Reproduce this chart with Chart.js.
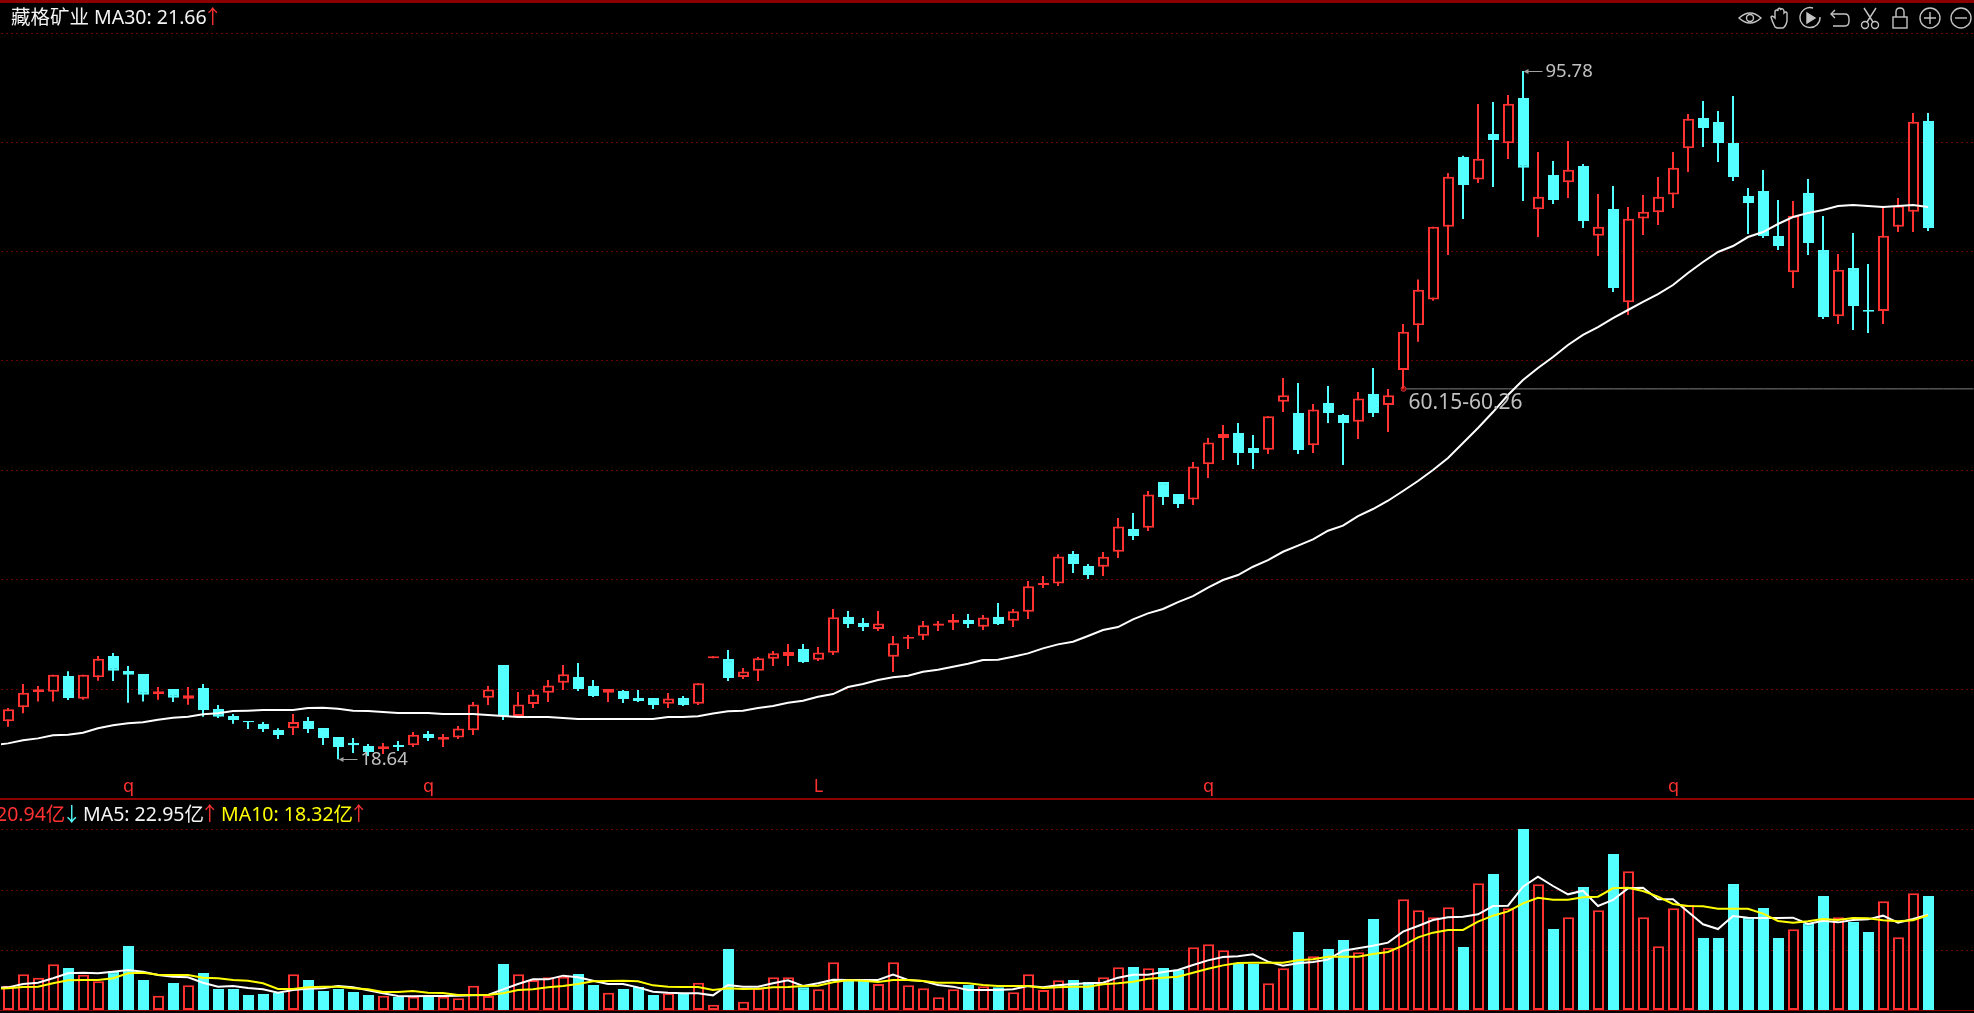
<!DOCTYPE html>
<html>
<head>
<meta charset="utf-8">
<script src="https://cdn.jsdelivr.net/npm/chart.js@4/dist/chart.umd.min.js"></script>
<style>
html, body { margin: 0; padding: 0; background: #000; width: 1974px; height: 1013px; overflow: hidden; }
canvas { position: absolute; left: 1px; }
#chart0 { top: 0; }
#chart1 { top: 800px; }
.rule { position: absolute; left: 0; width: 1974px; background: #8b0000; }
.txt { position: absolute; white-space: nowrap; font-family: "Noto Sans", "Noto Sans CJK SC", sans-serif; font-size: 19.5px; line-height: 22px; }
#tools { position: absolute; left: 1738px; top: 6px; }
</style>
</head>
<body>
<canvas id="chart0" width="1980" height="798"></canvas>
<canvas id="chart1" width="1980" height="210"></canvas>

<div class="rule" style="top:0;height:3px"></div>
<div class="rule" style="top:798px;height:2px"></div>
<div class="rule" style="top:1010px;height:1px"></div>

<span class="txt" style="left:11px;top:6px;color:#f4f4f4">藏格矿业 MA30: 21.66</span>
<span class="txt" style="left:203px;top:6px;color:#ff3232">↑</span>
<span class="txt" style="left:-4px;top:803px;color:#ff3232">20.94亿</span>
<span class="txt" style="left:62px;top:803px;color:#54ffff">↓</span>
<span class="txt" style="left:83px;top:803px;color:#f4f4f4">MA5: 22.95亿</span>
<span class="txt" style="left:200px;top:803px;color:#ff3232">↑</span>
<span class="txt" style="left:221px;top:803px;color:#ffff00">MA10: 18.32亿</span>
<span class="txt" style="left:349px;top:803px;color:#ff3232">↑</span>

<svg id="tools" width="236" height="24" fill="none" stroke="#c4c4c4" stroke-width="1.4">
  <g transform="translate(12,12)"><path d="M-11 0Q0 -10 11 0Q0 10 -11 0Z"/><circle r="3.5"/></g>
  <g transform="translate(42,12)"><path d="M-5 9Q-8 3 -9 -1Q-8 -3 -5 0V-7Q-3 -9 -2 -7V-9Q0 -11 1 -8V-9Q3 -10 4 -7V-5Q6 -7 7 -5V3Q6 8 3 10H-3Z"/></g>
  <g transform="translate(72,12)"><path d="M3 -10A10 10 0 1 0 10 -1"/><path d="M-3 -5L5 0L-3 5Z" fill="#c4c4c4"/></g>
  <g transform="translate(102,12)"><path d="M-9 -4H5Q9 -4 9 1V3Q9 8 5 8H-7"/><path d="M-5 -8L-9 -4L-5 0"/></g>
  <g transform="translate(132,12)"><circle cx="-5" cy="7" r="3.5"/><circle cx="5" cy="7" r="3.5"/><path d="M-3 4L6 -10M3 4L-6 -10"/></g>
  <g transform="translate(162,12)"><rect x="-7" y="-1" width="14" height="11"/><path d="M-4 -1V-6Q-4 -10 0 -10Q4 -10 4 -6V-1"/></g>
  <g transform="translate(192,12)"><circle r="10"/><path d="M-6 0H6M0 -6V6"/></g>
  <g transform="translate(223,12)"><circle r="10"/><path d="M-6 0H6"/></g>
</svg>

<script>
const opens = [22.88,24.45,26.17,26.21,27.96,25.42,27.81,30.21,28.52,28.19,
    25.91,26.51,25.42,26.62,24.26,23.48,22.92,22.58,21.91,22.10,
    22.92,22.13,21.12,20.45,20.12,19.78,20.23,20.19,21.46,20.82,
    21.08,21.87,25.53,29.19,23.47,24.82,26.09,27.21,27.85,26.84,
    26.09,26.28,25.49,25.49,24.86,25.49,24.86,29.95,29.86,27.85,
    28.56,29.90,30.20,30.99,29.79,30.57,34.57,33.90,33.23,30.13,
    32.14,32.48,33.60,33.93,34.23,33.49,34.57,34.16,35.17,38.16,
    38.34,41.63,40.29,40.21,41.89,44.44,44.59,49.70,48.36,47.76,
    51.69,54.64,55.20,53.52,53.33,58.71,57.44,53.82,58.56,57.22,
    56.47,59.57,58.34,62.26,67.27,70.18,78.33,86.14,83.63,88.72,
    87.67,92.75,80.27,84.12,83.30,85.13,77.32,80.31,69.85,79.26,
    79.94,81.95,87.11,90.51,90.06,87.71,81.77,82.33,77.28,73.21,
    82.10,75.71,68.28,73.69,68.99,68.87,78.33,80.01,90.17];
const closes = [24.23,26.09,26.47,28.11,25.50,28.11,29.91,28.56,28.11,25.87,
    26.24,25.53,25.80,24.15,23.40,23.03,22.77,22.02,21.35,22.81,
    22.02,21.01,20.00,20.19,19.44,20.08,20.00,21.39,21.01,21.12,
    22.09,24.78,26.46,23.47,24.78,25.90,26.91,28.15,26.50,25.72,
    26.50,25.38,25.16,24.71,25.45,24.71,27.14,30.17,27.73,28.48,
    29.94,30.50,30.65,29.53,30.61,34.54,33.79,33.45,33.86,31.62,
    32.33,33.64,33.86,34.23,33.79,34.53,33.79,35.21,38.01,38.38,
    41.37,40.51,39.28,41.33,44.73,43.65,48.32,48.02,47.24,51.46,
    54.15,55.09,52.96,52.96,57.07,59.42,53.29,57.85,57.44,56.32,
    59.08,57.44,59.42,66.56,71.27,78.33,83.93,83.00,85.95,88.04,
    92.12,84.94,81.69,81.32,84.72,78.96,78.33,71.45,79.23,80.01,
    81.69,84.94,90.44,89.39,87.71,83.90,80.98,77.28,76.16,79.56,
    76.50,68.20,73.51,69.43,68.80,77.32,80.68,90.10,78.18];
const highs = [24.38,27.07,26.84,28.11,28.49,28.11,30.21,30.54,29.08,28.19,
    26.73,26.51,26.73,27.07,24.71,23.70,22.92,22.81,22.10,23.70,
    23.37,22.13,21.12,21.01,20.34,20.45,20.68,21.68,21.80,21.46,
    22.35,25.04,26.84,29.19,26.16,26.39,27.51,29.19,29.42,27.51,
    26.50,26.39,26.39,25.49,26.05,25.72,27.14,30.17,30.87,28.86,
    30.09,30.76,31.55,31.55,31.21,35.47,35.25,34.46,35.25,32.44,
    32.55,34.12,34.12,34.91,34.91,34.79,36.14,35.47,38.61,39.17,
    41.60,41.97,40.51,41.86,45.67,46.23,48.70,49.70,48.36,51.95,
    54.64,56.10,56.32,54.97,57.07,61.36,60.80,58.45,60.47,57.33,
    59.79,62.49,60.13,67.42,72.42,78.33,84.34,86.29,92.08,92.30,
    93.09,95.78,86.70,85.69,87.93,85.35,81.99,82.89,80.53,81.88,
    83.90,86.70,90.96,92.42,91.30,92.98,82.66,84.68,81.32,81.21,
    83.67,79.52,75.26,77.62,74.14,80.53,81.54,91.07,91.07];
const lows = [22.28,23.78,25.09,25.09,25.27,25.31,27.44,27.40,24.97,25.09,
    25.31,25.05,24.75,23.40,23.25,22.62,22.02,21.68,20.90,21.35,
    21.57,20.23,18.64,19.33,18.99,19.22,19.55,20.00,20.68,20.00,
    20.90,21.34,24.71,23.03,23.25,24.37,25.04,26.39,26.28,25.60,
    25.04,24.93,25.04,24.26,24.37,24.60,24.71,29.95,27.40,27.62,
    27.40,29.08,29.08,29.42,29.64,30.31,33.34,33.00,33.00,28.41,
    30.98,31.99,33.00,33.11,33.34,33.11,33.67,33.45,34.35,37.82,
    38.05,39.50,38.83,39.17,41.18,43.20,44.21,47.13,46.79,47.13,
    50.15,52.17,51.61,51.16,52.84,57.55,52.84,52.96,56.32,51.61,
    54.53,56.99,55.31,60.15,65.44,70.03,75.15,79.19,83.22,82.78,
    85.91,81.21,77.17,80.87,81.54,78.18,75.04,71.00,68.43,77.39,
    78.52,80.42,84.46,87.26,85.58,83.45,77.51,77.06,75.71,71.45,
    75.15,67.98,67.42,66.74,66.41,67.42,77.73,77.73,77.84];
// the first entry of each average is the bar just off the left edge
const ma30 = [20.20,20.41,20.75,20.97,21.31,21.39,21.61,22.10,22.43,22.66,22.77,
    23.07,23.29,23.40,23.67,23.78,24.04,24.08,24.15,24.15,24.15,
    24.38,24.41,24.30,24.08,24.04,23.93,23.81,23.81,23.81,23.70,
    23.70,23.70,23.59,23.47,23.36,23.36,23.36,23.25,23.14,23.14,
    23.14,23.14,23.14,23.14,23.36,23.36,23.44,23.77,24.00,24.07,
    24.37,24.60,24.97,25.19,25.64,25.94,26.73,27.06,27.51,27.81,
    27.99,28.44,28.67,29.00,29.34,29.75,29.79,30.12,30.50,31.06,
    31.51,31.80,32.44,33.11,33.45,34.31,34.98,35.47,36.25,36.92,
    37.86,38.72,39.28,40.21,40.96,41.89,42.57,43.28,44.25,44.81,
    45.89,46.68,47.61,48.70,49.82,51.05,52.40,54.08,55.76,57.55,
    59.46,61.14,62.49,63.72,65.07,66.19,67.08,68.09,68.99,69.89,
    70.78,71.79,73.14,74.37,75.49,76.16,77.17,77.73,78.63,79.41,
    79.86,80.20,80.65,80.76,80.65,80.54,80.65,80.76,80.54];
const volumes = [4.47,6.55,5.94,8.39,7.71,6.49,5.27,7.10,11.76,5.51,
    2.63,4.96,4.53,6.80,3.86,3.86,2.76,2.94,3.12,6.55,
    5.51,3.49,3.86,3.31,2.76,2.63,2.39,2.45,2.39,2.45,
    2.14,4.47,2.57,8.45,6.55,5.51,6.00,6.12,6.61,4.59,
    3.18,3.86,4.22,2.76,3.06,2.94,5.02,0.98,11.21,1.53,
    3.98,6.00,6.00,4.16,3.80,8.76,5.33,5.51,4.78,8.76,
    4.53,3.98,2.33,3.80,4.59,4.35,4.16,3.25,6.55,3.67,
    5.45,5.51,5.14,6.00,7.84,7.90,7.65,7.71,7.35,11.51,
    12.06,10.96,8.45,8.45,4.90,7.65,14.33,9.86,11.21,12.86,
    10.59,16.72,11.45,20.33,18.31,17.02,18.86,11.57,23.27,24.98,
    18.68,33.25,23.08,14.88,17.02,22.59,18.31,28.66,25.47,17.02,
    11.69,18.68,19.29,13.23,13.23,23.14,17.02,18.74,13.23,14.82,
    15.92,20.94,17.02,16.16,14.33,19.96,13.35,21.43,20.94];
const ma5 = [4.10,4.16,4.78,5.02,5.82,6.74,6.86,6.74,7.04,7.35,7.04,
    6.43,6.12,6.00,5.02,4.29,4.41,4.04,3.80,3.18,3.67,
    3.92,3.98,4.41,4.16,3.61,3.06,2.57,2.51,2.57,2.57,
    2.63,2.69,2.76,3.80,4.78,5.63,5.63,6.31,6.00,5.39,
    4.78,4.78,4.16,3.37,3.18,3.06,3.06,2.69,4.59,4.29,
    4.29,4.90,5.45,4.41,4.90,5.57,5.51,5.51,5.51,6.49,
    5.51,5.33,4.59,4.29,3.67,3.67,3.67,3.80,4.41,4.16,
    4.53,4.78,4.90,5.02,5.94,6.49,6.49,6.98,7.35,8.27,
    9.12,9.74,9.86,10.23,8.88,8.14,8.57,8.82,9.25,10.90,
    11.33,11.82,12.37,14.39,15.43,16.53,17.02,17.14,17.57,19.10,
    19.16,22.66,24.49,22.78,21.25,21.92,19.10,20.21,22.35,22.47,
    20.33,20.33,18.06,15.74,14.88,17.27,16.96,16.90,16.90,16.96,
    15.80,16.41,16.10,16.53,16.65,17.33,16.04,16.72,17.51];
const ma10 = [3.95,3.98,4.22,4.29,4.90,5.45,5.51,5.51,5.82,6.74,6.86,
    6.49,6.43,6.43,5.94,5.82,5.51,5.39,4.90,3.86,3.86,
    4.16,4.29,4.29,3.98,3.80,3.31,3.31,3.49,3.18,3.12,
    2.76,2.76,2.76,3.06,3.67,3.80,4.16,4.41,4.78,5.27,
    5.33,5.39,5.27,4.53,4.29,4.22,4.22,3.67,3.98,3.86,
    3.92,4.16,4.22,4.41,4.47,5.08,5.45,5.39,5.14,5.51,
    5.51,5.33,5.02,5.02,4.90,4.59,4.41,4.41,4.41,4.04,
    4.16,4.29,4.29,4.71,4.90,5.20,5.76,5.94,6.12,6.86,
    7.59,8.20,8.63,8.69,8.69,8.69,9.12,9.31,9.80,9.80,
    9.80,10.29,10.65,11.82,13.35,14.21,14.70,14.70,16.23,17.33,
    18.12,19.59,20.63,20.27,20.27,20.70,20.82,22.35,22.47,21.86,
    20.82,19.47,19.10,19.04,18.61,18.61,18.61,17.70,16.35,16.04,
    16.29,16.72,16.53,16.90,16.84,16.47,16.29,16.47,17.39];

const tick_index = [8, 28, 54, 80, 111];
const tick_text = ['q', 'q', 'L', 'q', 'q'];
const price_grid = [100.04, 87.82, 75.60, 63.38, 51.05, 38.83, 26.50];
const volume_grid = [11.02, 22.04, 33.07];
const gap_start = 93;
const gap_price = 60.15;
const note_index = [101, 22, 93];
const note_price = [95.78, 18.64, 60.15];
const note_text = ['95.78', '18.64', '60.15-60.26'];

const RED = '#ff3232';
const CYAN = '#54ffff';
const GRID = '#6a0000';
const SLOTS = 132;

const labels0 = Array.from({ length: SLOTS }, (_, i) => {
    const k = tick_index.indexOf(i);
    return k >= 0 ? tick_text[k] : '';
});
const up = opens.map((o, i) => closes[i] >= o);
const edge_colors = up.map(u => u ? RED : CYAN);
const fill_colors = up.map(u => u ? '#000000' : CYAN);

function y_axis(min, max, ticks) {
    return {
        min: min,
        max: max,
        afterFit: s => { s.width = 0; },
        afterBuildTicks: s => { s.ticks = ticks.map(v => ({ value: v })); },
        ticks: { display: false },
        border: { display: false, dash: [2, 3] },
        grid: { color: GRID, lineWidth: 1, drawTicks: false },
    };
}

function wick_axis() {
    // half a pixel to the left, so a 2px wick lands on whole pixels
    return { type: 'linear', display: false, offset: false, min: -7 / 15, max: SLOTS - 7 / 15 };
}

function avg_points(values) {
    return values.map((v, i) => ({ x: i - 1, y: v }));
}

const notes_plugin = {
    id: 'notes',
    afterDatasetsDraw(chart) {
        const ctx = chart.ctx;
        const x = chart.scales.x, y = chart.scales.y;
        ctx.save();
        ctx.textBaseline = 'middle';
        for (let i = 0; i < note_text.length; i++) {
            const px = x.getPixelForValue(note_index[i]);
            const py = Math.round(y.getPixelForValue(note_price[i]));
            ctx.fillStyle = '#c0c0c0';
            if (i == 2) {
                ctx.font = '21px "Noto Sans", sans-serif';
                ctx.fillText(note_text[i], px + 5, py + 14);
                continue;
            }
            ctx.font = '18.5px "Noto Sans", sans-serif';
            ctx.fillText(note_text[i], px + 22, py + 1);
            ctx.fillStyle = '#a0a0a0';
            ctx.fillRect(px + 2, py, 17, 1);
            ctx.beginPath();
            ctx.moveTo(px, py + 0.5);
            ctx.lineTo(px + 5, py - 2);
            ctx.lineTo(px + 5, py + 3);
            ctx.fill();
        }
        ctx.restore();
    }
};

const canvas0 = document.getElementById('chart0');
const ctx0 = canvas0.getContext('2d');
const chart0 = new Chart(ctx0, {
    type: 'bar',
    plugins: [notes_plugin],
    data: {
        labels: labels0,
        datasets: [
            {
                type: 'line',
                data: labels0.map((_, i) => i >= gap_start ? gap_price : null),
                borderColor: '#808080',
                borderWidth: 1,
                pointRadius: c => c.dataIndex == gap_start ? 2.5 : 0,
                pointBackgroundColor: '#8b0000',
                pointBorderColor: '#c03030',
                order: 3,
            },
            {
                type: 'line',
                xAxisID: 'x1',
                data: avg_points(ma30),
                borderColor: '#ffffff',
                borderWidth: 2,
                pointRadius: 0,
                order: 0,
            },
            {
                data: opens.map((o, i) => [o, closes[i]]),
                backgroundColor: fill_colors,
                borderColor: edge_colors,
                borderWidth: 2,
                borderSkipped: false,
                inflateAmount: 0,
                grouped: false,
                barThickness: 11,
                maxBarThickness: 11,
                order: 1,
            },
            {
                xAxisID: 'x1',
                data: highs.map((h, i) => ({ x: i, y: [lows[i], h] })),
                backgroundColor: edge_colors,
                borderWidth: 0,
                inflateAmount: 0,
                grouped: false,
                barThickness: 2,
                maxBarThickness: 2,
                order: 2,
            },
        ]
    },
    options: {
        responsive: false,
        animation: false,
        devicePixelRatio: 1,
        layout: { padding: 0 },
        plugins: { legend: { display: false }, tooltip: { enabled: false } },
        scales: {
            x: {
                offset: true,
                afterFit: s => { s.height = 35; },
                grid: { display: false },
                border: { display: false },
                ticks: {
                    autoSkip: false,
                    maxRotation: 0,
                    padding: 5,
                    color: RED,
                    font: { family: '"Noto Sans", sans-serif', size: 18 },
                },
            },
            x1: wick_axis(),
            y: y_axis(18.21, 103.74, price_grid),
        }
    }
});

const canvas1 = document.getElementById('chart1');
const ctx1 = canvas1.getContext('2d');
const chart1 = new Chart(ctx1, {
    type: 'bar',
    data: {
        labels: labels0,
        datasets: [
            { type: 'line', xAxisID: 'x1', data: avg_points(ma10), borderColor: '#ffff00', borderWidth: 2, pointRadius: 0, order: 0 },
            { type: 'line', xAxisID: 'x1', data: avg_points(ma5), borderColor: '#ffffff', borderWidth: 2, pointRadius: 0, order: 1 },
            {
                data: volumes,
                backgroundColor: fill_colors,
                borderColor: edge_colors,
                borderWidth: 2,
                borderSkipped: false,
                inflateAmount: 0,
                grouped: false,
                barThickness: 11,
                maxBarThickness: 11,
                order: 2,
            },
        ]
    },
    options: {
        responsive: false,
        animation: false,
        devicePixelRatio: 1,
        layout: { padding: 0 },
        plugins: { legend: { display: false }, tooltip: { enabled: false } },
        scales: {
            x: { display: false, offset: true },
            x1: wick_axis(),
            y: y_axis(0, 38.58, volume_grid),
        }
    }
});
</script>
</body>
</html>
